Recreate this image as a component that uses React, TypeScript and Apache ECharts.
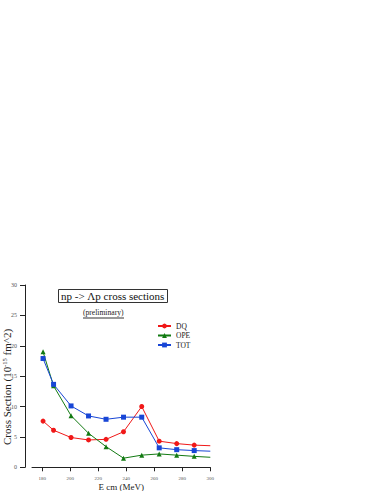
import React, { useEffect, useRef } from "react";
import * as echarts from "echarts";

const energies = [180.5, 188, 200.5, 213, 225.5, 238, 251, 263.5, 276, 288.5, 300];
const dqValues = [7.6, 6.1, 4.9, 4.5, 4.6, 5.85, 10.0, 4.3, 3.9, 3.65, 3.55];
const opeValues = [19.0, 13.4, 8.5, 5.6, 3.4, 1.5, 2.0, 2.2, 2.0, 1.8, 1.65];
const totValues = [17.9, 13.65, 10.1, 8.45, 7.9, 8.25, 8.25, 3.2, 2.9, 2.75, 2.65];
const xTicks = [180, 200, 220, 240, 260, 280, 300];
const seriesNames = ["DQ", "OPE", "TOT"];

const FONT = "Liberation Serif";

function toData(vals: number[]) {
  return vals.map((v, i) =>
    i === vals.length - 1
      ? { value: [energies[i], v], symbol: "none" }
      : { value: [energies[i], v] }
  );
}

export default function App() {
  const ref = useRef<HTMLDivElement>(null);
  useEffect(() => {
    if (!ref.current) return;
    const chart = echarts.init(ref.current, null, { renderer: "svg" });
    const mk = (name: string, vals: number[], color: string, symbol: string, size: number) => ({
      name,
      type: "line",
      data: toData(vals),
      symbol,
      symbolSize: size,
      showAllSymbol: true,
      lineStyle: { color, width: 1 },
      itemStyle: { color },
      z: 3,
    });
    chart.setOption({
      animation: false,
      backgroundColor: "#fff",
      textStyle: { fontFamily: FONT },
      title: [
        {
          text: "np -> \u039Bp cross sections",
          left: 58,
          top: 289,
          padding: [1, 3, 1, 3],
          borderColor: "#333",
          borderWidth: 1,
          textStyle: { fontFamily: FONT, fontSize: 11, fontWeight: "normal", color: "#111", lineHeight: 12 },
        },
      ],
      graphic: [
        {
          type: "text",
          left: 83,
          top: 308,
          style: { text: "(preliminary)", font: `7.6px "${FONT}"`, fill: "#222" },
        },
        {
          type: "line",
          shape: { x1: 83, y1: 318, x2: 124, y2: 318 },
          style: { stroke: "#333", lineWidth: 1 },
        },
        {
          type: "text",
          x: 7,
          y: 387,
          rotation: Math.PI / 2,
          style: {
            text: "{a|Cross Section (10}{s|-15}{a| fm^2)}",
            align: "center",
            verticalAlign: "middle",
            rich: {
              a: { fontFamily: FONT, fontSize: 11, fill: "#222", lineHeight: 12 },
              s: { fontFamily: FONT, fontSize: 6.5, fill: "#222", verticalAlign: "top", lineHeight: 12 },
            },
          },
        },
      ],
      legend: {
        data: seriesNames,
        orient: "vertical",
        left: 157,
        top: 322,
        padding: 0,
        itemWidth: 13,
        itemHeight: 6,
        itemGap: 1.5,
        textStyle: { fontFamily: FONT, fontSize: 7.5, color: "#222", padding: [0, 0, 0, 0], lineHeight: 8 },
      },
      grid: { left: 32, right: 168.7, top: 285, bottom: 23.7, containLabel: false, outerBoundsMode: "none" },
      xAxis: {
        type: "value",
        min: 172.6,
        max: 300,
        offset: 3,
        name: "E cm (MeV)",
        nameLocation: "middle",
        nameGap: 10,
        nameTextStyle: { fontFamily: FONT, fontSize: 9, color: "#222" },
        axisLine: { show: true, lineStyle: { color: "#222", width: 1 } },
        axisTick: { show: true, length: 4, customValues: xTicks, lineStyle: { color: "#222" } },
        axisLabel: { customValues: xTicks, fontSize: 5, color: "#555", margin: 6, fontFamily: FONT },
        splitLine: { show: false },
      },
      yAxis: {
        type: "value",
        min: 0,
        max: 30,
        interval: 5,
        offset: 7,
        axisLine: { show: true, lineStyle: { color: "#222", width: 1 } },
        axisTick: { show: true, length: 5, lineStyle: { color: "#222" } },
        axisLabel: { fontSize: 6, color: "#555", margin: 8, fontFamily: FONT },
        splitLine: { show: false },
      },
      series: [
        mk("DQ", dqValues, "#f01818", "circle", 5),
        mk("OPE", opeValues, "#127a12", "triangle", 5),
        mk("TOT", totValues, "#1846d6", "rect", 5),
      ],
    });
    return () => chart.dispose();
  }, []);
  return (
    <div
      ref={ref}
      style={{ position: "absolute", left: 0, top: 0, width: 379, height: 491 }}
    />
  );
}
